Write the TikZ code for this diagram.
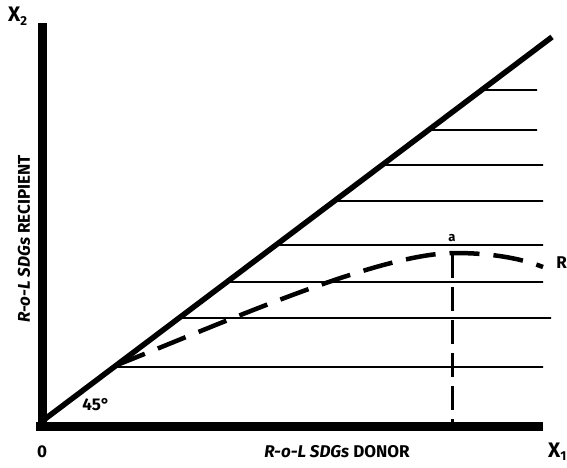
\documentclass[tikz,border=0pt]{standalone}
\usepackage{fontspec}
\setmainfont{Fira Sans}
\usetikzlibrary{calc}
\begin{document}
\begin{tikzpicture}[x=1pt,y=-1pt,
  axisline/.style={line width=8.5pt},
  diagline/.style={line width=5.5pt},
  hatchline/.style={line width=1.8pt},
  curveline/.style={line width=4.5pt,dash pattern=on 30pt off 14pt},
  dropline/.style={line width=3pt,dash pattern=on 24pt off 9pt},
  lbl/.style={font=\bfseries\fontsize{17}{19}\selectfont,inner sep=0pt},
  small/.style={font=\bfseries\fontsize{13}{15}\selectfont,inner sep=0pt}]
\useasboundingbox (0,0) rectangle (567,468);
% axes
\coordinate (ytop) at (42.5,23);
\coordinate (ybot) at (42.5,430.75);
\coordinate (xstart) at (36,426.5);
\coordinate (xend) at (543,426.5);
\draw[axisline] (ytop) -- (ybot);
\draw[axisline] (xstart) -- (xend);
% diagonal
\coordinate (d1) at (45,419);
\coordinate (d2) at (552,37);
\draw[diagline] (d1) -- (d2);
% hatch lines
\foreach \yy/\xr in {90/537,130/537,165/543,201/543,245/543,282/543,318/551,367/543}{
  \coordinate (hl) at ($(d1)!{(419-\yy)/382}!(d2)$);
  \coordinate (hr) at (\xr,\yy);
  \draw[hatchline] (hl) -- (hr);
}
% dashed curve
\coordinate (c0) at (117,365);
\coordinate (pa) at (455,253);
\coordinate (c1) at (543,267);
\draw[curveline] (c0) .. controls (230,320) and (380,253) .. (pa)
  .. controls (490,253) and (520,258) .. (c1);
% drop line
\coordinate (pb) at (452,426.5);
\draw[dropline] (452,254) -- (pb);
% labels
\node[small] (la) at (452,238) {a};
\node[lbl,anchor=east] (lr) at (567,263) {R};
\node[lbl,anchor=base west] (lx2) at (8,22) {\fontsize{21}{23}\selectfont X\raisebox{-0.3ex}{\fontsize{13}{15}\selectfont 2}};
\node[lbl,anchor=base east] (lx1) at (566.5,457) {\fontsize{21}{23}\selectfont X\raisebox{-0.3ex}{\fontsize{13}{15}\selectfont 1}};
\node[lbl] (l0) at (42,452) {0};
\node[lbl] (l45) at (96,405) {45°};
\node[lbl] (ldonor) at (337,452) {\textit{R-o-L SDGs} DONOR};
\node[lbl,rotate=90] (lrec) at (24,239) {\textit{R-o-L SDGs} RECIPIENT};
\end{tikzpicture}
\end{document}
